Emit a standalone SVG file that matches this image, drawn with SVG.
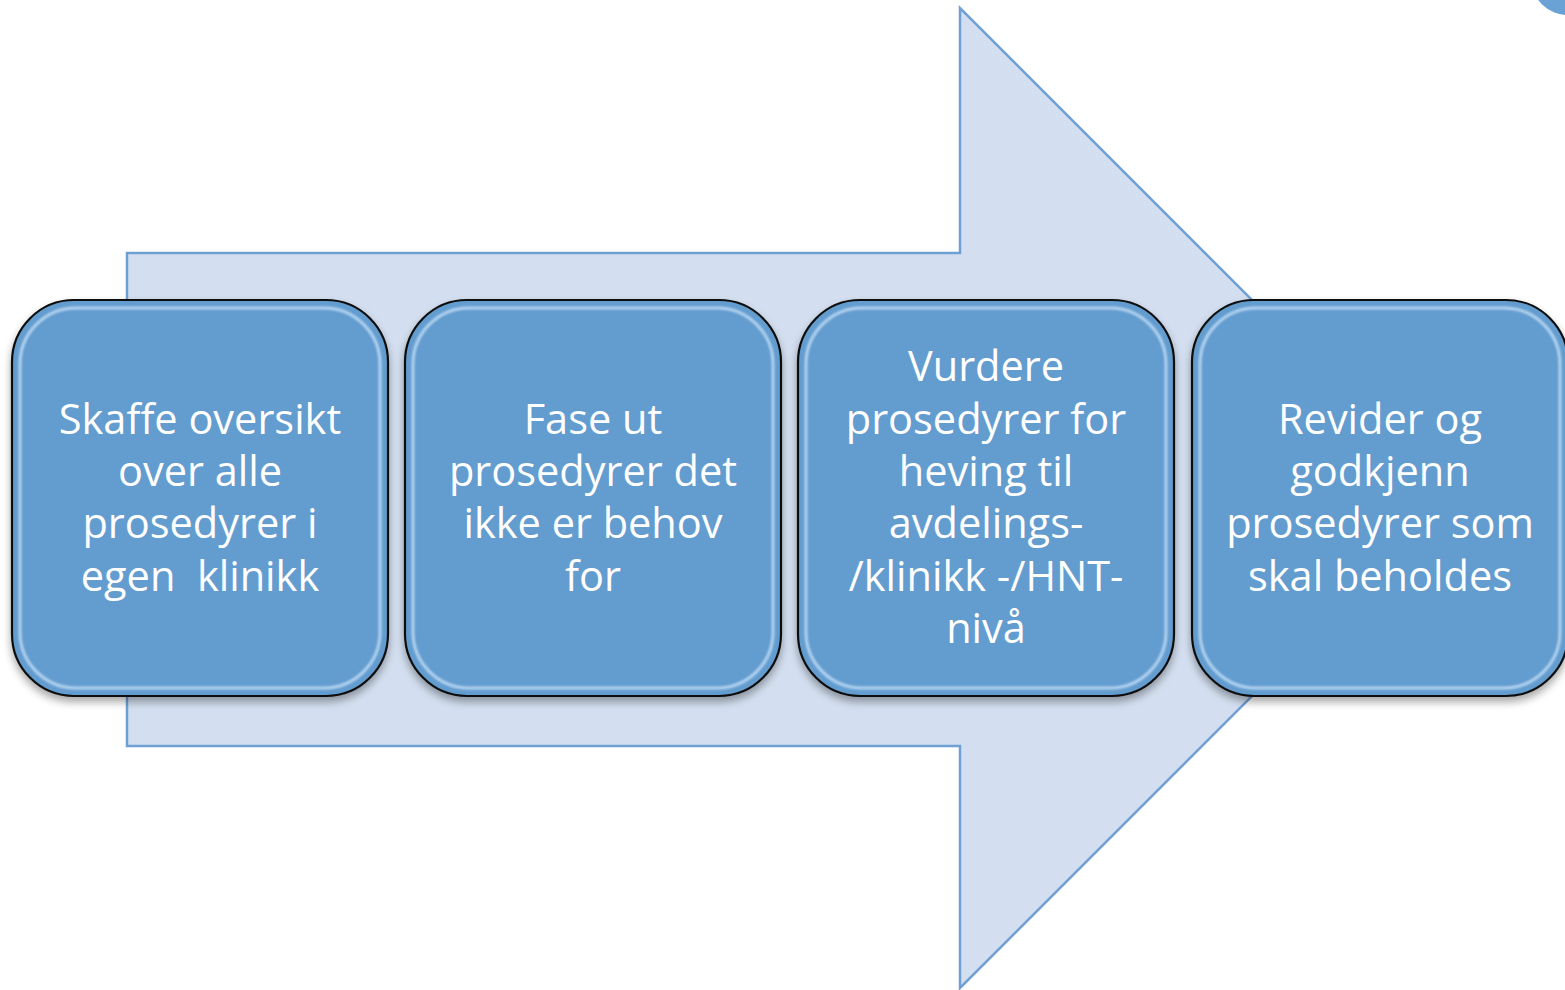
<svg xmlns="http://www.w3.org/2000/svg" width="1565" height="990" viewBox="0 0 1565 990">
<style>
.box{fill:#639ccf;stroke:#111;stroke-width:2.2}
.bevel{fill:none;stroke:#d6ecff;stroke-width:3;opacity:0.7}
.lbl{font-family:"Open Sans","Noto Sans",sans-serif;font-size:41.5px;fill:#ffffff;text-anchor:middle}
</style>
<defs>
<filter id="sh" x="-10%" y="-10%" width="120%" height="125%">
<feGaussianBlur in="SourceAlpha" stdDeviation="4"/>
<feOffset dy="5"/>
<feComponentTransfer><feFuncA type="linear" slope="0.35"/></feComponentTransfer>
<feMerge><feMergeNode/><feMergeNode in="SourceGraphic"/></feMerge>
</filter>
<filter id="bl"><feGaussianBlur stdDeviation="1.2"/></filter>
</defs>
<rect width="1565" height="990" fill="#ffffff"/>
<circle cx="1568" cy="-22" r="37" fill="#6aa2d6"/>
<g id="arrow">
<path d="M127,253 H960 V8 L1450,498 L960,988 V746 H127 Z" fill="#d3dff0" stroke="#6fa0d4" stroke-width="2.5"/>
</g>
<g id="node1">
<rect class="box" x="12" y="300" width="376" height="396" rx="62" filter="url(#sh)"/>
<rect class="bevel" x="20" y="308" width="360" height="380" rx="56" filter="url(#bl)"/>
<text class="lbl"><tspan x="200" y="434">Skaffe oversikt</tspan><tspan x="200" y="486">over alle</tspan><tspan x="200" y="538">prosedyrer i</tspan><tspan x="200" y="591">egen&#160; klinikk</tspan></text>
</g>
<g id="node2">
<rect class="box" x="405" y="300" width="376" height="396" rx="62" filter="url(#sh)"/>
<rect class="bevel" x="413" y="308" width="360" height="380" rx="56" filter="url(#bl)"/>
<text class="lbl"><tspan x="593" y="434">Fase ut</tspan><tspan x="593" y="486">prosedyrer det</tspan><tspan x="593" y="538">ikke er behov</tspan><tspan x="593" y="591">for</tspan></text>
</g>
<g id="node3">
<rect class="box" x="798" y="300" width="376" height="396" rx="62" filter="url(#sh)"/>
<rect class="bevel" x="806" y="308" width="360" height="380" rx="56" filter="url(#bl)"/>
<text class="lbl"><tspan x="986" y="381">Vurdere</tspan><tspan x="986" y="434">prosedyrer for</tspan><tspan x="986" y="486">heving til</tspan><tspan x="986" y="538">avdelings-</tspan><tspan x="986" y="591">/klinikk -/HNT-</tspan><tspan x="986" y="643">nivå</tspan></text>
</g>
<g id="node4">
<rect class="box" x="1192" y="300" width="376" height="396" rx="62" filter="url(#sh)"/>
<rect class="bevel" x="1200" y="308" width="360" height="380" rx="56" filter="url(#bl)"/>
<text class="lbl"><tspan x="1380" y="434">Revider og</tspan><tspan x="1380" y="486">godkjenn</tspan><tspan x="1380" y="538">prosedyrer som</tspan><tspan x="1380" y="591">skal beholdes</tspan></text>
</g>
<g id="connectors"/>
</svg>
